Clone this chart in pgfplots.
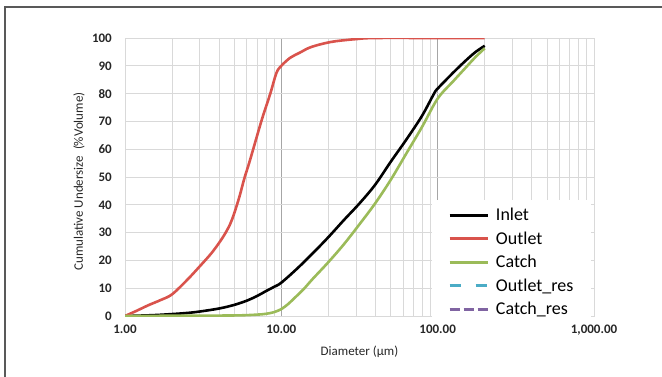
\documentclass[border=0pt]{standalone}
\usepackage{pgfplots}
\pgfplotsset{compat=1.18}
\usepackage{fontspec}
\setmainfont{Carlito}
\definecolor{cRed}{HTML}{D9534C}
\definecolor{cGreen}{HTML}{9BBB59}
\definecolor{cCyan}{HTML}{4BACC6}
\definecolor{cPurple}{HTML}{8064A2}
\definecolor{gMinor}{HTML}{D9D9D9}
\definecolor{gMajor}{HTML}{A6A6A6}
\begin{document}
\begin{tikzpicture}
\useasboundingbox (0pt,0pt) rectangle (662pt,-376pt);
\draw[color=black!65, line width=1.2pt] (5pt,-377pt) -- (5pt,-7pt) -- (663pt,-7pt);
\begin{axis}[
  at={(125pt,-316pt)}, anchor=south west,
  scale only axis, width=469pt, height=278pt,
  xmode=log, xmin=1, xmax=1000, ymin=0, ymax=100,
  xtick={1,10,100,1000},
  xticklabels={1.00,10.00,100.00,{1,000.00}},
  minor xtick={2,3,4,5,6,7,8,9,20,30,40,50,60,70,80,90,200,300,400,500,600,700,800,900},
  ytick={0,10,...,100},
  /pgf/number format/assume math mode=true,
  major tick length=0pt, minor tick length=0pt,
  xmajorgrids, xminorgrids, ymajorgrids,
  major x grid style={draw=gMajor, line width=0.8pt},
  minor x grid style={draw=gMinor, line width=0.8pt},
  major y grid style={draw=gMinor, line width=0.8pt},
  axis line style={draw=gMinor, line width=0.8pt},
  ticklabel style={font=\fontsize{13}{15}\selectfont\bfseries, text=black!85},
  yticklabel style={inner sep=0pt, xshift=-13pt},
  xticklabel style={inner sep=0pt, yshift=-9pt},
  xlabel={Diameter (μm)},
  ylabel={Cumulative Undersize\ \ (\%Volume)},
  label style={font=\fontsize{13}{15}\selectfont, text=black!85},
  xlabel style={at={(axis description cs:0.5,-0.1295)}, anchor=center},
  ylabel style={at={(axis description cs:-0.098,0.484)}, anchor=center, rotate=0},
  legend cell align=left,
  legend style={draw=none, fill=white, at={(0.655,0.417)}, anchor=north west,
    font=\fontsize{18}{19}\selectfont, row sep=5.5pt, column sep=5pt,
    inner xsep=16pt, inner ysep=6pt,
    nodes={inner sep=2pt}},
  legend image code/.code={\draw[#1] (0pt,0pt) -- (38pt,0pt);},
]
\addplot[black, line width=2.6pt, smooth, tension=0.55] coordinates {
(1,0) (1.5,0.3) (2,0.7) (2.5,1.1) (3,1.6) (4,2.7) (5,4.0) (6,5.5) (7,7.2) (8,9.0) (9,10.5)
(10,12) (12.59,17) (15.85,22.5) (19.95,28.3) (25.12,34.5) (31.62,40.5) (39.81,47.2)
(50.12,55.5) (63.1,63.5) (79.43,72) (94.8,80) (100,81.8) (126,87.6) (152,92) (175,95) (200,97.2)
};
\addlegendentry{Inlet}
\addplot[cRed, line width=2.6pt, smooth, tension=0.55] coordinates {
(1,0) (1.2,2) (1.4,3.8) (1.7,5.8) (2,7.8) (2.5,13) (3,17.8) (3.5,22) (3.85,25) (4.3,29) (4.7,33)
(5.0,37) (5.4,43) (5.8,49.5) (6.3,56) (7.5,70.6) (8.5,80) (9.3,87.4) (10,90) (11.4,92.9)
(13.1,94.7) (15.1,96.5) (18,97.8) (22,98.8) (30,99.6) (40,100) (100,100) (200,100)
};
\addlegendentry{Outlet}
\addplot[cGreen, line width=2.6pt, smooth, tension=0.55] coordinates {
(1,0) (2,0.1) (5,0.2) (7,0.5) (8,0.8) (9,1.4) (10,2.5) (11,4.2) (12,6.2) (13.8,9.5) (15.85,13.3) (19.95,19.3)
(25.12,25.8) (31.62,33) (39.81,40.5) (50.12,49) (63.1,58.5) (79.43,68) (100,78.2)
(126,84.5) (152,89.5) (175,93.2) (200,96.3)
};
\addlegendentry{Catch}
\addlegendimage{cCyan, line width=2.6pt, dash pattern=on 11pt off 15pt}
\addlegendentry{Outlet\_res}
\addlegendimage{cPurple, line width=2.6pt, dash pattern=on 10pt off 4pt}
\addlegendentry{Catch\_res}
\end{axis}
\end{tikzpicture}
\end{document}
